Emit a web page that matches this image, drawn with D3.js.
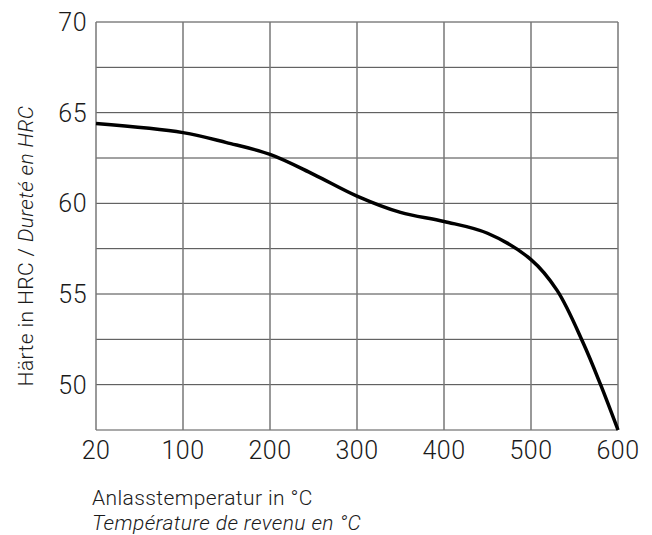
<!DOCTYPE html>
<html><head><meta charset="utf-8">
<script src="https://cdn.jsdelivr.net/npm/d3@7"></script>
<style>body{margin:0;background:#fff}svg{display:block}text{font-family:Roboto,"Liberation Sans",sans-serif;font-weight:300;fill:#1a1a1a}</style>
</head><body><svg id="c" width="652" height="535"></svg>
<script>
const xTicks = [20,100,200,300,400,500,600];
const yTicks = [50,55,60,65,70];
const yGrid = [50,52.5,55,57.5,60,62.5,65,67.5,70];
const temps = [20,100,150,200,250,300,350,400,450,500,530,560,580,600];
const hrc   = [64.4,63.9,63.35,62.7,61.6,60.4,59.5,59.0,58.35,56.9,55.2,52.3,50.0,47.5];

const svg = d3.select("#c");
const L=96,R=618,T=22,B=430;
const step=(R-L)/(xTicks.length-1);
const x = d3.scaleLinear().domain(xTicks).range(xTicks.map((d,i)=>L+i*step));
const y = d3.scaleLinear().domain([47.5,70]).range([B,T]);

const g = svg.append("g");
g.selectAll(".hg").data(yGrid).join("line")
 .attr("x1",L).attr("x2",R).attr("y1",d=>y(d)).attr("y2",d=>y(d))
 .attr("stroke","#444").attr("stroke-width",1);
g.append("line").attr("x1",L).attr("x2",R).attr("y1",B).attr("y2",B).attr("stroke","#555").attr("stroke-width",1.2);
g.selectAll(".vg").data(xTicks).join("line")
 .attr("x1",d=>x(d)).attr("x2",d=>x(d)).attr("y1",T).attr("y2",B)
 .attr("stroke","#777").attr("stroke-width",1.5);

const line = d3.line().x((d,i)=>x(temps[i])).y(d=>y(d)).curve(d3.curveCatmullRom.alpha(0.5));
g.append("path").datum(hrc).attr("d",line).attr("fill","none").attr("stroke","#000").attr("stroke-width",3.5);

g.selectAll(".yl").data(yTicks).join("text")
 .attr("x",87).attr("y",d=>y(d)).attr("dy","0.36em").attr("text-anchor","end")
 .attr("font-size",25).attr("letter-spacing",0.5).text(d=>d);
g.selectAll(".xl").data(xTicks).join("text")
 .attr("x",d=>x(d)).attr("y",459).attr("text-anchor","middle")
 .attr("font-size",25).attr("letter-spacing",0.5).text(d=>d);

const yt = svg.append("text").attr("transform","translate(33,"+((T+B)/2+20)+") rotate(-90)")
 .attr("text-anchor","middle").attr("font-size",21).attr("letter-spacing",0.4);
yt.append("tspan").text("Härte in HRC / ");
yt.append("tspan").attr("font-style","italic").text("Dureté en HRC");

svg.append("text").attr("x",92).attr("y",505).attr("font-size",21).attr("letter-spacing",0.4).text("Anlasstemperatur in °C");
svg.append("text").attr("x",92).attr("y",530).attr("font-size",21).attr("letter-spacing",0.4).attr("font-style","italic").text("Température de revenu en °C");
</script></body></html>
